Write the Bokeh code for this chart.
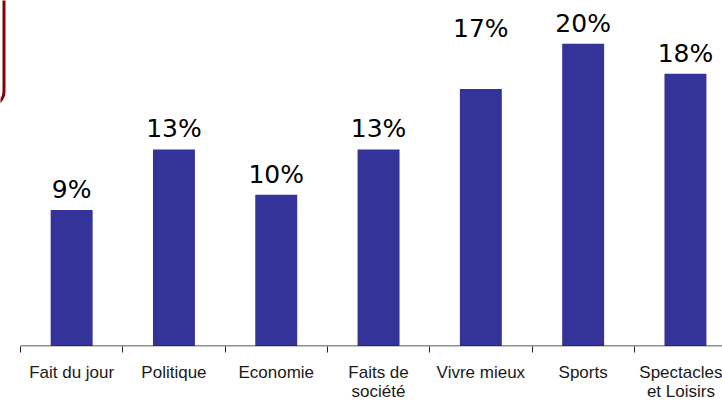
from bokeh.plotting import figure
from bokeh.models import (ColumnDataSource, LabelSet, Range1d, FixedTicker,
                          BoxAnnotation)
from bokeh.core.properties import value
from bokeh.embed import file_html
from bokeh.resources import INLINE

# ---- data ----
categories = ["Fait du jour", "Politique", "Economie", "Faits de société",
              "Vivre mieux", "Sports", "Spectacles et Loisirs"]
tick_labels = ["Fait du jour", "Politique", "Economie", "Faits de\nsociété",
               "Vivre mieux", "Sports", "Spectacles\net Loisirs"]
values = [9, 13, 10, 13, 17, 20, 18]
value_labels = ["9%", "13%", "10%", "13%", "17%", "20%", "18%"]

# ---- geometry / style ----
W, H = 722, 404
AXIS_X = 20          # pixel where the category axis starts
BASE_Y = 348.5       # pixel row of the baseline
cat_px = 102.3
pct_px = 15.25
frame_h = 349
label_gap = [12, 12, 12, 12, 52, 12, 12]   # px between bar top and its label

n = len(categories)
centers = [i + 0.5 for i in range(n)]
bounds = list(range(n + 1))

p = figure(width=W, height=H, output_backend="svg", toolbar_location=None,
           x_range=Range1d(-AXIS_X / cat_px, (W - AXIS_X) / cat_px),
           y_range=Range1d(-(frame_h - BASE_Y) / pct_px, BASE_Y / pct_px),
           min_border_left=0, min_border_right=0, min_border_top=0,
           min_border_bottom=H - frame_h)
p.outline_line_color = None
p.background_fill_color = "white"
p.border_fill_color = "white"
p.grid.visible = False
p.yaxis.visible = False

src = ColumnDataSource(dict(x=centers, top=values, lab=value_labels,
                            dy=label_gap))
p.vbar(x="x", top="top", bottom=0, width=0.41, source=src,
       fill_color="#333399", line_color=None)

# axis line starting at the first category boundary
p.segment(x0=[0], y0=[0], x1=[n], y1=[0], line_color="#222222",
          line_width=1)

ax = p.xaxis[0]
ax.ticker = FixedTicker(ticks=centers, minor_ticks=bounds)
ax.major_label_overrides = {c: t for c, t in zip(centers, tick_labels)}
ax.axis_line_color = None
ax.major_tick_out = 0
ax.major_tick_in = 0
ax.minor_tick_out = 6
ax.minor_tick_in = 0
ax.minor_tick_line_color = "#222222"
ax.major_label_standoff = 10
ax.major_label_text_font = "Liberation Sans"
ax.major_label_text_font_size = "17px"
ax.major_label_text_line_height = 1.05
ax.major_label_text_color = "#1a1a1a"

p.add_layout(LabelSet(x="x", y="top", text="lab", source=src,
                      y_offset="dy", text_align="center",
                      text_baseline="alphabetic",
                      text_font=value("DejaVu Sans"), text_font_size="25px",
                      text_color="#000000"))

# partial rounded frame at top-left
p.add_layout(BoxAnnotation(left=-5, right=-(AXIS_X - 3.5) / cat_px,
                           top=40, bottom=(BASE_Y - 106) / pct_px,
                           fill_color=None, fill_alpha=0,
                           line_color="#8b0000", line_alpha=1.0,
                           line_width=3, border_radius=14))

open("out.html", "w").write(file_html(p, INLINE))
